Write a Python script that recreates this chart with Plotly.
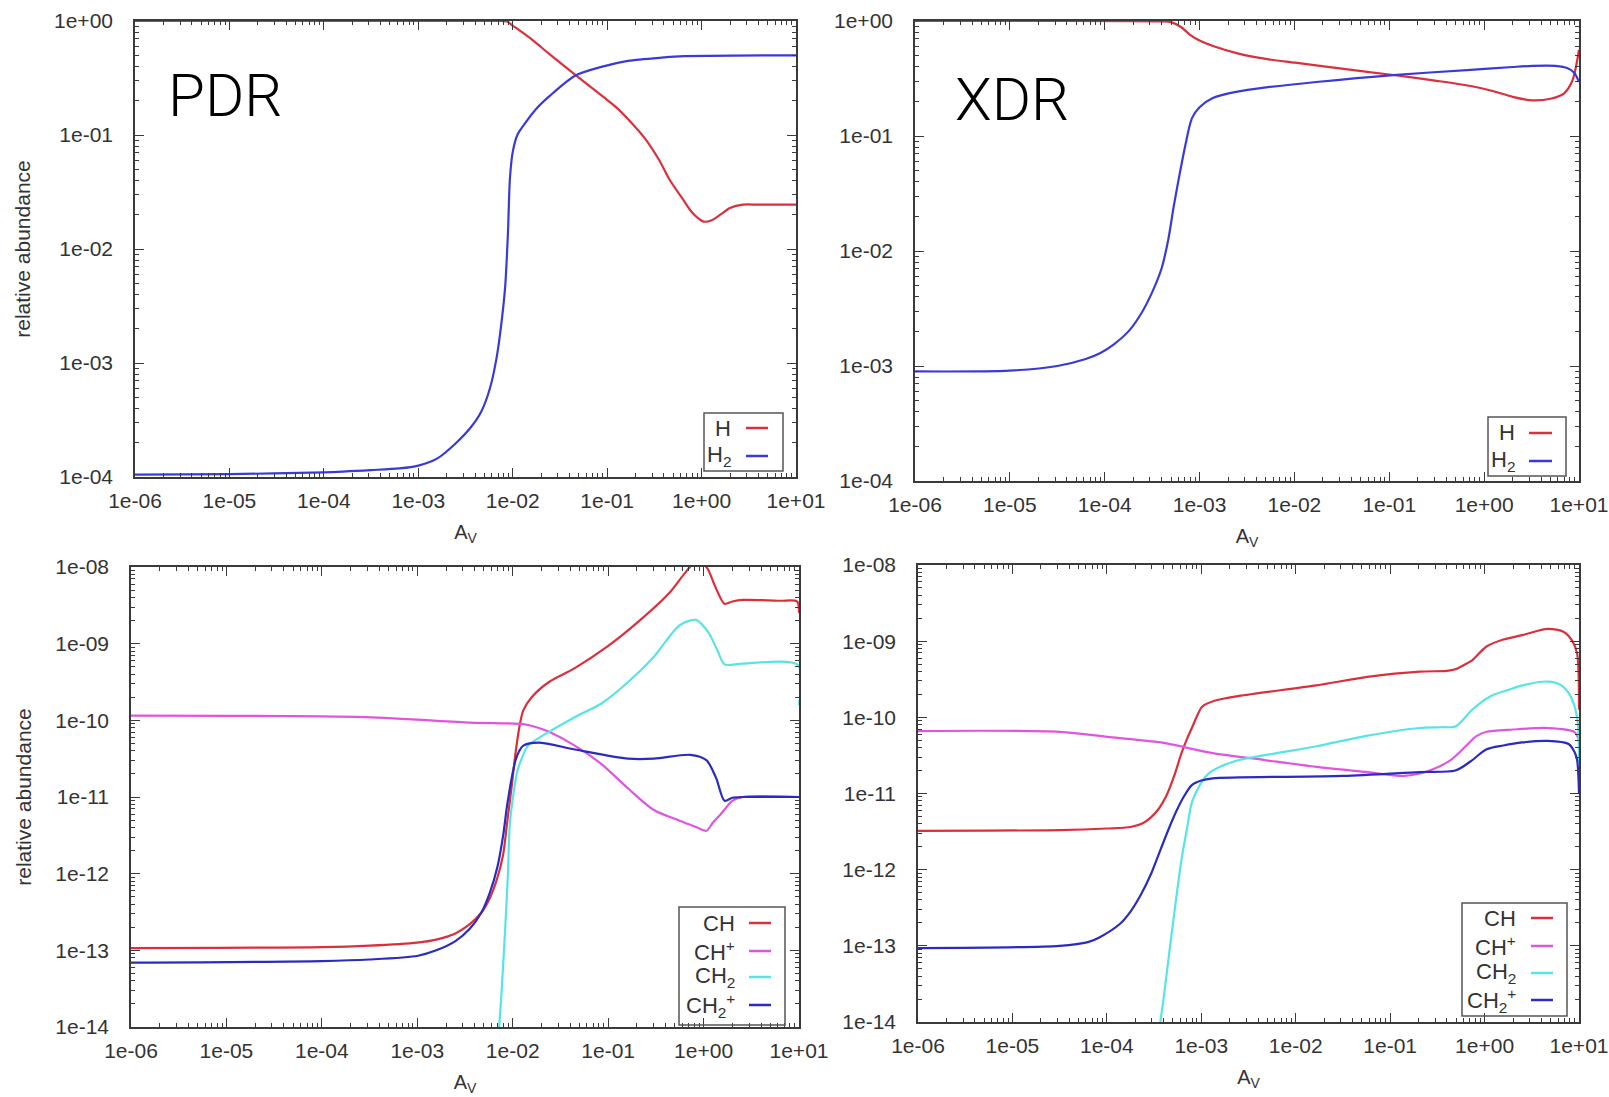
import plotly.graph_objects as go

W, H = 1609, 1097

# ---------------- data ----------------
# PDR, top panel
pdr_h_x = [1e-6, 1e-3, 6.31e-3, 8.71e-3, 1e-2, 1.58e-2, 2.45e-2, 4.57e-2, 8.91e-2, 0.126, 0.166, 0.251, 0.355,
           0.457, 0.631, 0.794, 1.05, 1.26, 1.58, 2.0, 2.75, 3.98, 10]
pdr_h_y = [1, 1, 1, 0.99, 0.912, 0.692, 0.513, 0.339, 0.219, 0.174, 0.138, 0.0933, 0.0603,
           0.0407, 0.0275, 0.0209, 0.0174, 0.0178, 0.020, 0.0229, 0.0245, 0.0245, 0.0245]
pdr_h2_x = [1e-6, 1e-5, 1e-4, 3.16e-4, 6.31e-4, 1e-3, 1.58e-3, 2.45e-3, 3.55e-3, 4.68e-3, 5.75e-3, 6.76e-3,
            7.59e-3, 8.32e-3, 8.91e-3, 9.33e-3, 1e-2, 1.12e-2, 1.29e-2, 1.78e-2, 2.45e-2, 4.57e-2, 8.91e-2,
            0.166, 0.398, 0.589, 10]
pdr_h2_y = [1.05e-4, 1.06e-4, 1.10e-4, 1.15e-4, 1.19e-4, 1.26e-4, 1.45e-4, 1.95e-4, 2.69e-4, 3.80e-4, 6.03e-4,
            1.12e-3, 2.24e-3, 4.68e-3, 0.0141, 0.0407, 0.0708, 0.1, 0.120, 0.170, 0.219, 0.331, 0.398,
            0.447, 0.479, 0.490, 0.50]

# XDR, top panel
xdr_h_x = [1e-6, 3.98e-4, 5.01e-4, 6.31e-4, 7.94e-4, 1e-3, 1.41e-3, 2.63e-3, 5.01e-3, 1.02e-2, 3.16e-2, 0.110,
           0.316, 0.724, 1.26, 2.0, 3.24, 5.01, 6.92, 8.51, 10]
xdr_h_y = [1, 0.993, 0.977, 0.891, 0.759, 0.676, 0.603, 0.518, 0.468, 0.434, 0.385, 0.339,
           0.302, 0.272, 0.245, 0.219, 0.204, 0.211, 0.234, 0.302, 0.562]
xdr_h2_x = [1e-6, 1e-5, 3.16e-5, 6.31e-5, 8.91e-5, 1.26e-4, 1.78e-4, 2.40e-4, 3.16e-4, 3.98e-4, 4.68e-4, 5.37e-4,
            6.17e-4, 7.08e-4, 8.32e-4, 1e-3, 1.38e-3, 2.51e-3, 4.79e-3, 1.70e-2, 0.110, 0.724, 2.0, 3.24,
            5.62, 7.59, 8.91, 10]
xdr_h2_y = [8.97e-4, 9.12e-4, 1.0e-3, 1.15e-3, 1.29e-3, 1.55e-3, 2.0e-3, 2.82e-3, 4.37e-3, 7.08e-3, 0.0126, 0.0251,
            0.0468, 0.0832, 0.143, 0.178, 0.214, 0.243, 0.263, 0.295, 0.339, 0.376, 0.398, 0.407,
            0.407, 0.389, 0.355, 0.295]

# PDR, bottom panel
pdr_ch_x = [1e-6, 1e-4, 3.16e-4, 1e-3, 1.58e-3, 2.51e-3, 3.55e-3, 4.68e-3, 5.75e-3, 6.92e-3, 7.94e-3, 8.71e-3,
            9.77e-3, 1.07e-2, 1.17e-2, 1.29e-2, 1.58e-2, 2.40e-2, 4.47e-2, 9.77e-2, 0.209, 0.437, 0.646, 0.832,
            1.07, 1.32, 1.66, 2.0, 2.57, 6.31, 9.55, 10]
pdr_ch_y = [1.07e-13, 1.10e-13, 1.15e-13, 1.26e-13, 1.38e-13, 1.66e-13, 2.19e-13, 3.09e-13, 4.79e-13, 8.91e-13,
            1.78e-12, 4.47e-12, 1.41e-11, 3.72e-11, 7.94e-11, 1.35e-10, 2.0e-10, 3.16e-10, 4.79e-10, 9.12e-10,
            1.95e-9, 4.57e-9, 8.51e-9, 1.17e-8, 1.0e-8, 5.62e-9, 3.31e-9, 3.55e-9, 3.72e-9, 3.63e-9, 3.55e-9, 2.51e-9]
pdr_chp_x = [1e-6, 2.88e-4, 3.63e-3, 1.29e-2, 1.78e-2, 2.40e-2, 4.47e-2, 8.51e-2, 0.162, 0.302, 0.562, 0.832,
             1.07, 1.26, 1.55, 2.0, 2.57, 10]
pdr_chp_y = [1.15e-10, 1.10e-10, 9.33e-11, 8.91e-11, 8.13e-11, 7.08e-11, 4.68e-11, 2.69e-11, 1.29e-11, 6.76e-12,
             4.90e-12, 4.07e-12, 3.63e-12, 4.68e-12, 6.17e-12, 8.91e-12, 1.0e-11, 1.0e-11]
pdr_ch2_x = [6.76e-3, 7.59e-3, 8.32e-3, 8.91e-3, 9.33e-3, 1.02e-2, 1.12e-2, 1.26e-2, 1.45e-2, 2.40e-2, 4.47e-2,
             8.51e-2, 0.162, 0.302, 0.562, 0.832, 1.12, 1.41, 1.66, 2.57, 9.77, 10]
pdr_ch2_y = [3.16e-15, 2.51e-14, 1.82e-13, 1.0e-12, 4.47e-12, 1.12e-11, 2.19e-11, 3.31e-11, 4.68e-11, 7.08e-11,
             1.10e-10, 1.66e-10, 3.16e-10, 6.76e-10, 1.74e-9, 2.04e-9, 1.41e-9, 7.94e-10, 5.37e-10, 5.50e-10,
             5.25e-10, 1.58e-10]
pdr_ch2p_x = [1e-6, 1e-4, 3.16e-4, 1.02e-3, 1.58e-3, 2.51e-3, 3.55e-3, 4.68e-3, 5.75e-3, 6.92e-3, 7.94e-3,
              8.71e-3, 9.77e-3, 1.07e-2, 1.17e-2, 1.29e-2, 1.86e-2, 4.47e-2, 0.162, 0.302, 0.724, 1.07, 1.35,
              1.66, 2.0, 2.57, 10]
pdr_ch2p_y = [6.92e-14, 7.24e-14, 7.59e-14, 8.51e-14, 1.0e-13, 1.32e-13, 1.91e-13, 3.09e-13, 5.62e-13, 1.23e-12,
              3.16e-12, 7.59e-12, 1.78e-11, 3.02e-11, 3.98e-11, 4.68e-11, 5.13e-11, 4.17e-11, 3.16e-11, 3.16e-11,
              3.55e-11, 3.02e-11, 1.78e-11, 8.91e-12, 9.77e-12, 1.0e-11, 1.0e-11]

# XDR, bottom panel
xdr_ch_x = [1e-6, 3.16e-5, 1e-4, 1.78e-4, 2.40e-4, 2.95e-4, 3.55e-4, 4.27e-4, 5.13e-4, 6.17e-4, 7.08e-4, 7.94e-4,
            9.12e-4, 1.02e-3, 1.41e-3, 2.51e-3, 1.66e-2, 5.75e-2, 0.204, 0.398, 0.490, 0.631, 0.724, 1.05,
            1.58, 2.51, 4.68, 6.92, 8.51, 9.55, 10]
xdr_ch_y = [3.24e-12, 3.31e-12, 3.47e-12, 3.63e-12, 4.07e-12, 4.90e-12, 6.31e-12, 9.33e-12, 1.66e-11, 3.39e-11,
            5.25e-11, 7.24e-11, 1.07e-10, 1.38e-10, 1.66e-10, 1.91e-10, 2.63e-10, 3.39e-10, 3.98e-10, 4.07e-10,
            4.27e-10, 5.01e-10, 5.50e-10, 8.51e-10, 1.05e-9, 1.20e-9, 1.45e-9, 1.32e-9, 1.0e-9, 6.92e-10, 1.26e-10]
xdr_chp_x = [1e-6, 3.16e-5, 1.07e-4, 3.72e-4, 1.32e-3, 4.68e-3, 1.66e-2, 5.75e-2, 0.141, 0.263, 0.437, 0.631,
             0.813, 1.05, 2.0, 4.68, 8.91, 10]
xdr_chp_y = [6.61e-11, 6.46e-11, 5.50e-11, 4.68e-11, 3.39e-11, 2.75e-11, 2.24e-11, 1.91e-11, 1.70e-11, 2.0e-11,
             2.75e-11, 4.17e-11, 5.62e-11, 6.46e-11, 6.92e-11, 7.24e-11, 6.46e-11, 5.01e-11]
xdr_ch2_x = [3.16e-4, 3.98e-4, 4.90e-4, 6.17e-4, 7.08e-4, 7.94e-4, 9.55e-4, 1.17e-3, 1.58e-3, 2.51e-3, 6.31e-3,
             1.66e-2, 5.75e-2, 0.204, 0.355, 0.490, 0.603, 0.724, 1.17, 1.78, 2.51, 4.68, 6.31, 7.94, 9.55, 10]
xdr_ch2_y = [2.51e-15, 2.0e-14, 1.58e-13, 1.35e-12, 3.55e-12, 7.59e-12, 1.26e-11, 1.78e-11, 2.24e-11, 2.75e-11,
             3.39e-11, 4.17e-11, 5.75e-11, 7.24e-11, 7.41e-11, 7.59e-11, 9.55e-11, 1.23e-10, 1.91e-10, 2.29e-10,
             2.63e-10, 2.95e-10, 2.69e-10, 2.0e-10, 1.0e-10, 2.51e-11]
xdr_ch2p_x = [1e-6, 3.16e-5, 6.31e-5, 8.32e-5, 1.38e-4, 1.78e-4, 2.29e-4, 2.95e-4, 3.72e-4, 4.57e-4, 5.50e-4,
              6.61e-4, 7.94e-4, 1e-3, 1.32e-3, 3.16e-2, 0.204, 0.490, 0.708, 1.05, 1.58, 2.51, 4.68, 7.76, 8.91,
              9.55, 10]
xdr_ch2p_y = [9.33e-14, 1.0e-13, 1.12e-13, 1.29e-13, 1.95e-13, 2.82e-13, 4.68e-13, 8.91e-13, 1.86e-12, 3.55e-12,
              6.03e-12, 9.33e-12, 1.29e-11, 1.48e-11, 1.58e-11, 1.70e-11, 1.91e-11, 2.0e-11, 2.63e-11, 3.80e-11,
              4.27e-11, 4.68e-11, 4.90e-11, 4.47e-11, 3.55e-11, 2.75e-11, 1.0e-11]

x_tick_vals = [1e-6, 1e-5, 1e-4, 1e-3, 1e-2, 1e-1, 1e0, 1e1]
x_tick_text = ["1e-06", "1e-05", "1e-04", "1e-03", "1e-02", "1e-01", "1e+00", "1e+01"]
y_top_vals = [1e-4, 1e-3, 1e-2, 1e-1, 1e0]
y_top_text = ["1e-04", "1e-03", "1e-02", "1e-01", "1e+00"]
y_bot_vals = [1e-14, 1e-13, 1e-12, 1e-11, 1e-10, 1e-9, 1e-8]
y_bot_text = ["1e-14", "1e-13", "1e-12", "1e-11", "1e-10", "1e-09", "1e-08"]

panel_labels = ["PDR", "XDR"]
top_names = ["H", "H<sub>2</sub>"]
bot_names = ["CH", "CH<sup>+</sup>", "CH<sub>2</sub>", "CH<sub>2</sub><sup>+</sup>"]

# ---------------- styling ----------------
RED = "#dc2f3c"
BLUE = "#3a3ad6"
MAGENTA = "#e055e0"
CYAN = "#58e4e4"
NAVY = "#2b2bbf"
AX = "#3a3a3a"
TXT = "#333333"
FONT = "Liberation Sans"


def pxx(v):
    return v / W


def pxy(v):
    return 1 - v / H


# panel boxes in pixels: (left, right, top, bottom)
boxes = [(135, 796, 21, 477), (915, 1579, 21, 481), (131, 799, 567, 1027), (918, 1579, 565, 1022)]

fig = go.Figure()

series = [
    (1, [(pdr_h_x, pdr_h_y, RED, top_names[0]), (pdr_h2_x, pdr_h2_y, BLUE, top_names[1])]),
    (2, [(xdr_h_x, xdr_h_y, RED, top_names[0]), (xdr_h2_x, xdr_h2_y, BLUE, top_names[1])]),
    (3, [(pdr_ch_x, pdr_ch_y, RED, bot_names[0]), (pdr_chp_x, pdr_chp_y, MAGENTA, bot_names[1]),
         (pdr_ch2_x, pdr_ch2_y, CYAN, bot_names[2]), (pdr_ch2p_x, pdr_ch2p_y, NAVY, bot_names[3])]),
    (4, [(xdr_ch_x, xdr_ch_y, RED, bot_names[0]), (xdr_chp_x, xdr_chp_y, MAGENTA, bot_names[1]),
         (xdr_ch2_x, xdr_ch2_y, CYAN, bot_names[2]), (xdr_ch2p_x, xdr_ch2p_y, NAVY, bot_names[3])]),
]

for idx, lst in series:
    suf = "" if idx == 1 else str(idx)
    for xs, ys, col, name in lst:
        fig.add_trace(go.Scatter(
            x=xs, y=ys, mode="lines", name=name, showlegend=False,
            line=dict(color=col, width=2.2, shape="spline", smoothing=0.8),
            xaxis="x" + suf, yaxis="y" + suf,
        ))

minor_x = [m * 10.0 ** k for k in range(-6, 1) for m in range(2, 10)]
minor_y_top = [m * 10.0 ** k for k in range(-4, 0) for m in range(2, 10)]
minor_y_bot = [m * 10.0 ** k for k in range(-14, -8) for m in range(2, 10)]

layout = dict(
    width=W, height=H, margin=dict(l=0, r=0, t=0, b=0, autoexpand=False),
    paper_bgcolor="white", plot_bgcolor="white", showlegend=False,
    font=dict(family=FONT, color=TXT),
)

for i, (l, r, t, b) in enumerate(boxes):
    n = i + 1
    suf = "" if n == 1 else str(n)
    top = i < 2
    common = dict(
        type="log", showgrid=False, zeroline=False, showline=True, automargin=False,
        linecolor=AX, linewidth=1.6, mirror="allticks",
        ticks="inside", ticklen=9, tickwidth=1.2, tickcolor=AX,
        tickfont=dict(family=FONT, size=21, color=TXT),
    )
    xa = dict(common,
              domain=[pxx(l), pxx(r)], range=[-6, 1], anchor="y" + suf,
              tickmode="array", tickvals=x_tick_vals, ticktext=x_tick_text,
              minor=dict(tickvals=minor_x, ticks="inside", ticklen=4, tickcolor=AX, tickwidth=1),
              title=dict(text="A<sub>V</sub>", font=dict(family=FONT, size=20, color=TXT), standoff=14),
              ticklabelstandoff=4)
    ya = dict(common,
              domain=[pxy(b), pxy(t)], anchor="x" + suf,
              range=[-4, 0] if top else [-14, -8],
              tickmode="array",
              tickvals=y_top_vals if top else y_bot_vals,
              ticktext=y_top_text if top else y_bot_text,
              minor=dict(tickvals=minor_y_top if top else minor_y_bot, ticks="inside", ticklen=4, tickcolor=AX,
                         tickwidth=1),
              ticklabelstandoff=16)
    if i in (0, 2):
        ya["title"] = dict(text="relative abundance", font=dict(family=FONT, size=21, color=TXT), standoff=18)
    layout["xaxis" + suf] = xa
    layout["yaxis" + suf] = ya

fig.update_layout(**layout)

annotations = []
shapes = []

# panel labels
annotations.append(dict(x=pxx(166), y=pxy(95), xref="paper", yref="paper", text=panel_labels[0],
                        showarrow=False, xanchor="left", yanchor="middle",
                        font=dict(family="Roboto", size=60, color="black", weight=300)))
annotations.append(dict(x=pxx(953), y=pxy(99), xref="paper", yref="paper", text=panel_labels[1],
                        showarrow=False, xanchor="left", yanchor="middle",
                        font=dict(family="Roboto", size=60, color="black", weight=300)))

# gnuplot-style keys: (box l, r, t, b), text right x, line x0, x1, row ys, names, colors
keys = [
    ((704, 783, 413, 471), 733, 746, 768, [428, 456], top_names, [RED, BLUE]),
    ((1488, 1566, 417, 476), 1517, 1529, 1552, [433, 461], top_names, [RED, BLUE]),
    ((679, 785, 907, 1025), 737, 749, 771, [923, 951, 977, 1005], bot_names, [RED, MAGENTA, CYAN, NAVY]),
    ((1462, 1567, 903, 1016), 1518, 1531, 1553, [918, 946, 973, 1000], bot_names, [RED, MAGENTA, CYAN, NAVY]),
]
for (bl, br, bt, bb), tx, lx0, lx1, ys, names, cols in keys:
    shapes.append(dict(type="rect", xref="paper", yref="paper", x0=pxx(bl), x1=pxx(br), y0=pxy(bb), y1=pxy(bt),
                       line=dict(color="#555555", width=1.5), fillcolor="rgba(0,0,0,0)"))
    for yy, nm, c in zip(ys, names, cols):
        annotations.append(dict(x=pxx(tx), y=pxy(yy), xref="paper", yref="paper", text=nm, showarrow=False,
                                xanchor="right", yanchor="middle", font=dict(family=FONT, size=22, color=TXT)))
        shapes.append(dict(type="line", xref="paper", yref="paper", x0=pxx(lx0), x1=pxx(lx1), y0=pxy(yy),
                           y1=pxy(yy), line=dict(color=c, width=2.5)))

fig.update_layout(annotations=annotations, shapes=shapes)

fig.write_html("out.html")
